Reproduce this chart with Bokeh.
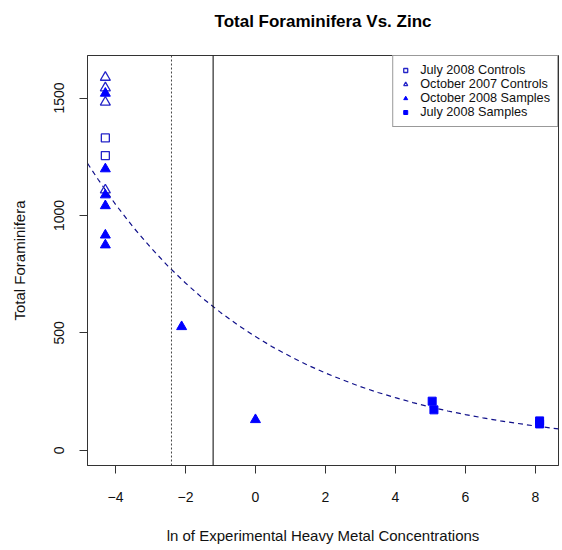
from bokeh.plotting import figure
from bokeh.models import Range1d, FixedTicker, Span, Legend, LegendItem, Title
from bokeh.embed import file_html
from bokeh.resources import INLINE

# ---- data ----
ctrl_jul08_x = [-4.29, -4.29]
ctrl_jul08_y = [1330, 1255]
ctrl_oct07_x = [-4.29, -4.29, -4.29, -4.29]
ctrl_oct07_y = [1588, 1543, 1482, 1108]
samp_oct08_x = [-4.29, -4.29, -4.29, -4.29, -4.29, -4.29, -2.11, 0.0]
samp_oct08_y = [1520, 1198, 1087, 1041, 916, 874, 526, 130]
samp_jul08_x = [5.05, 5.10, 8.12, 8.12]
samp_jul08_y = [209, 172, 125, 112]

fit_x = [-4.8, -4.5, -4.0, -3.5, -3.0, -2.5, -2.0, -1.5, -1.0, -0.5, 0.0, 0.5, 1.0,
         1.5, 2.0, 2.5, 3.0, 3.5, 4.0, 4.5, 5.0, 5.5, 6.0, 6.5, 7.0, 7.5, 8.0, 8.66]
fit_y = [1222, 1154, 1047, 951, 864, 784, 712, 646, 587, 533, 484, 439, 399,
         362, 329, 299, 271, 246, 224, 203, 184, 167, 152, 138, 125, 114, 103, 91]

dotted_line_x = -2.4
solid_line_x = -1.21

x_ticks = [-4, -2, 0, 2, 4, 6, 8]
y_ticks = [0, 500, 1000, 1500]

title_text = "Total Foraminifera Vs. Zinc"
legend_labels = ["July 2008 Controls", "October 2007 Controls",
                 "October 2008 Samples", "July 2008 Samples"]

FONT = "Liberation Sans"
BLUE = "#0000ff"
OPEN_BLUE = "#2424c8"

p = figure(width=562, height=550, output_backend="svg", toolbar_location=None,
           x_range=Range1d(-4.8, 8.66), y_range=Range1d(-65, 1681),
           min_border_left=87, min_border_right=4, min_border_top=55,
           min_border_bottom=85, background_fill_color="white",
           border_fill_color="white")

# real title, with a blank spacer title between it and the frame
p.title.text = title_text
p.title.align = "center"
p.title.text_font = FONT
p.title.text_font_size = "17px"
p.title.text_font_style = "bold"
p.title.text_color = "#000000"
p.title.standoff = 18
p.add_layout(Title(text=" ", text_font_size="10px", standoff=3), "above")

p.xgrid.visible = False
p.ygrid.visible = False
p.outline_line_color = "#333333"
p.outline_line_width = 1

for ax in (p.xaxis[0], p.yaxis[0]):
    ax.axis_line_color = "#333333"
    ax.major_tick_line_color = "#333333"
    ax.major_tick_in = 0
    ax.major_tick_out = 8
    ax.minor_tick_line_color = None
    ax.major_label_text_font = FONT
    ax.major_label_text_font_size = "14px"
    ax.major_label_text_color = "#111111"
    ax.axis_label_text_font = FONT
    ax.axis_label_text_font_size = "15px"
    ax.axis_label_text_font_style = "normal"
    ax.axis_label_text_color = "#111111"

p.xaxis.ticker = FixedTicker(ticks=x_ticks)
p.yaxis.ticker = FixedTicker(ticks=y_ticks)
p.yaxis.major_label_orientation = "vertical"
p.xaxis.axis_label = "ln of Experimental Heavy Metal Concentrations"
p.yaxis.axis_label = "Total Foraminifera"
p.xaxis.major_label_standoff = 18
p.xaxis.axis_label_standoff = 22
p.yaxis.major_label_standoff = 15
p.yaxis.axis_label_standoff = 24

# reference lines
p.add_layout(Span(location=dotted_line_x, dimension="height", line_color="#444444",
                  line_dash="2 2", line_width=1))
p.add_layout(Span(location=solid_line_x, dimension="height", line_color="#000000",
                  line_width=1))

# fitted curve
p.line(fit_x, fit_y, line_color="#10108a", line_dash="5 4", line_width=1.2)

# points
r1 = p.scatter(ctrl_jul08_x, ctrl_jul08_y, marker="square", size=8, fill_color=None,
               line_color=OPEN_BLUE, line_width=1.3)
r2 = p.scatter(ctrl_oct07_x, ctrl_oct07_y, marker="triangle", size=10, fill_color=None,
               line_color=OPEN_BLUE, line_width=1.3)
r3 = p.scatter(samp_oct08_x, samp_oct08_y, marker="triangle", size=10, fill_color=BLUE,
               line_color=BLUE)
r4 = p.scatter(samp_jul08_x, samp_jul08_y, marker="square", size=8, fill_color=BLUE,
               line_color=BLUE)

legend = Legend(items=[LegendItem(label=legend_labels[0], renderers=[r1]),
                       LegendItem(label=legend_labels[1], renderers=[r2]),
                       LegendItem(label=legend_labels[2], renderers=[r3]),
                       LegendItem(label=legend_labels[3], renderers=[r4])],
                location="top_right", margin=0, padding=7, spacing=0,
                glyph_width=10, glyph_height=14, label_height=14,
                label_standoff=10, label_text_font=FONT,
                label_text_font_size="12.7px", label_text_color="#111111",
                border_line_color="#333333", border_line_width=1,
                background_fill_color="white", background_fill_alpha=1.0)
p.add_layout(legend)

open("out.html", "w").write(file_html(p, INLINE))
